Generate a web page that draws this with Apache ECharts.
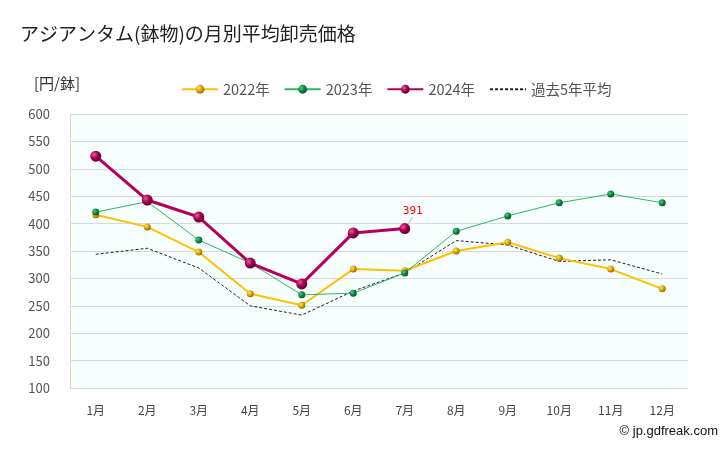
<!DOCTYPE html>
<html><head><meta charset="utf-8">
<script src="https://cdn.jsdelivr.net/npm/echarts@6/dist/echarts.min.js"></script>
<style>html,body{margin:0;padding:0;background:#fff}#c{width:728px;height:450px}</style>
</head><body><div id="c"></div>
<script>
const categories = ['1月','2月','3月','4月','5月','6月','7月','8月','9月','10月','11月','12月'];
const v2022 = [416, 394, 348, 272, 251, 317, 314, 350, 366, 337, 317, 281];
const v2023 = [421, 440, 370, 328, 270, 273, 310, 386, 414, 438, 454, 438];
const v2024 = [523, 443, 412, 328, 290, 383, 391, null, null, null, null, null];
const vAvg  = [344, 355, 319, 250, 233, 277, 310, 369, 361, 331, 334, 308];
const yTicks = [100, 600, 50];

function ball(light, mid, dark){
  return {type:'radial', x:0.35, y:0.35, r:0.7, colorStops:[
    {offset:0, color:light},{offset:0.5, color:mid},{offset:1, color:dark}]};
}
const font = '"Noto Sans CJK JP","Noto Sans",sans-serif';
const chart = echarts.init(document.getElementById('c'), null, {renderer:'canvas'});
const d2024 = v2024.map((v,i)=> i===6 ? {value:v, label:{show:true, formatter:'{c}', position:'top', color:'#ff0000', fontSize:11, fontFamily:'"DejaVu Sans Mono",monospace', distance:2}} : v);
chart.setOption({
  animation:false,
  backgroundColor:'#fff',
  title:{text:'アジアンタム(鉢物)の月別平均卸売価格', left:15, top:19, textStyle:{fontSize:19, fontWeight:'normal', color:'#222', fontFamily:font}},
  graphic:[
    {type:'text', left:34, top:76, style:{text:'[円/鉢]', fill:'#333', font:'15px '+font}},
    {type:'text', right:10, top:425, style:{text:'© jp.gdfreak.com', fill:'#111', font:'13px "Liberation Sans",Arial,sans-serif'}}
  ],
  legend:{top:77, left:176, itemWidth:36, itemHeight:11, itemGap:14, textStyle:{fontSize:14.5, color:'#555', fontFamily:font},
    data:['2022年','2023年','2024年',{name:'過去5年平均', itemStyle:{opacity:0}}]},
  grid:{left:70, right:40, top:114, bottom:62, show:true, backgroundColor:'#f7fffe', borderWidth:0},
  xAxis:{type:'category', data:categories, boundaryGap:true,
    axisLine:{show:true, lineStyle:{color:'#ddd'}}, axisTick:{show:false},
    axisLabel:{color:'#444', fontSize:12, margin:16, fontFamily:font}},
  yAxis:{type:'value', min:yTicks[0], max:yTicks[1], interval:yTicks[2],
    axisLine:{show:true, lineStyle:{color:'#e0d8b8'}}, axisTick:{show:false},
    splitLine:{lineStyle:{color:'#d9d9d9'}},
    axisLabel:{color:'#555', fontSize:13, margin:20, fontFamily:font}},
  series:[
    {name:'2022年', type:'line', data:v2022, symbol:'circle', symbolSize:7,
     lineStyle:{color:'#ffc000', width:2}, itemStyle:{color:ball('#ffe27a','#e0a800','#8a6400')}, z:3},
    {name:'2023年', type:'line', data:v2023, symbol:'circle', symbolSize:7,
     lineStyle:{color:'#2db55d', width:1}, itemStyle:{color:ball('#4fd080','#0e8a44','#04522a')}, z:4},
    {name:'2024年', type:'line', data:d2024, symbol:'circle', symbolSize:11,
     labelLayout:{dx:8, dy:-4}, labelLine:{show:true, lineStyle:{color:'#bbb', width:1}},
     lineStyle:{color:'#b5005b', width:3}, itemStyle:{color:ball('#e0609a','#a8004f','#5a0028')}, z:5},
    {name:'過去5年平均', type:'line', data:vAvg, symbol:'none', showSymbol:false,
     lineStyle:{color:'#222', width:1, type:[3,2]}, itemStyle:{color:'#222'}, z:2}
  ]
});
</script></body></html>
